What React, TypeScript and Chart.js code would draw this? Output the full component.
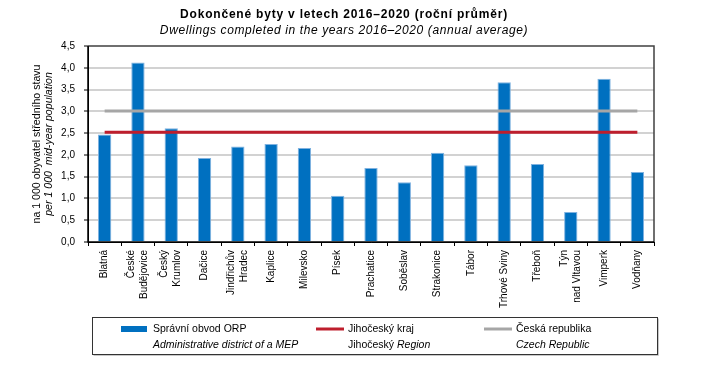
import { useEffect, useRef } from "react";
import { Chart, registerables } from "chart.js";

Chart.register(...registerables);

const FONT = '"Liberation Sans", Arial, sans-serif';

const titleText = "Dokončené byty v letech 2016–2020 (roční průměr)";
const subtitleText = "Dwellings completed in the years 2016–2020 (annual average)";
const yTitleCz = "na 1 000 obyvatel středního stavu";
const yTitleEn = "per 1 000  mid-year population";

const categories: string[][] = [
  ["Blatná"],
  ["České", "Budějovice"],
  ["Český", "Krumlov"],
  ["Dačice"],
  ["Jindřichův", "Hradec"],
  ["Kaplice"],
  ["Milevsko"],
  ["Písek"],
  ["Prachatice"],
  ["Soběslav"],
  ["Strakonice"],
  ["Tábor"],
  ["Trhové Sviny"],
  ["Třeboň"],
  ["Týn", "nad Vltavou"],
  ["Vimperk"],
  ["Vodňany"],
];

const orpValues = [2.47, 4.12, 2.61, 1.93, 2.19, 2.25, 2.16, 1.06, 1.7, 1.37, 2.05, 1.76, 3.67, 1.79, 0.69, 3.75, 1.61];
const regionValue = 2.52;
const czechValue = 3.01;

const yMin = 0;
const yMax = 4.5;
const yStep = 0.5;

const legendCz = ["Správní obvod ORP", "Jihočeský kraj", "Česká republika"];
const legendEn = ["Administrative district of a MEP", "Region", "Czech Republic"];

const BLUE = "#0070c0";
const RED = "#be1e2d";
const GRAY = "#a6a6a6";

const decorPlugin = {
  id: "decor",
  afterDraw(chart: any) {
    const ctx = chart.ctx as any;
    const { left, right, top, bottom } = chart.chartArea;
    ctx.save();

    // plot frame
    ctx.lineWidth = 1.5;
    ctx.strokeStyle = "#404040";
    ctx.beginPath();
    ctx.moveTo(left, top);
    ctx.lineTo(right, top);
    ctx.lineTo(right, bottom);
    ctx.stroke();
    ctx.strokeStyle = "#000";
    ctx.beginPath();
    ctx.moveTo(left, top);
    ctx.lineTo(left, bottom);
    ctx.lineTo(right, bottom);
    ctx.stroke();

    // titles
    ctx.fillStyle = "#000";
    ctx.textAlign = "center";
    ctx.textBaseline = "middle";
    ctx.letterSpacing = "0.8px";
    ctx.font = `bold 12px ${FONT}`;
    ctx.fillText(titleText, 344, 15);
    ctx.letterSpacing = "0.6px";
    ctx.font = `italic 12px ${FONT}`;
    ctx.fillText(subtitleText, 344, 31);
    ctx.letterSpacing = "0px";

    // y title
    const cy = (top + bottom) / 2;
    ctx.save();
    ctx.translate(37, cy);
    ctx.rotate(-Math.PI / 2);
    ctx.font = `10.6px ${FONT}`;
    ctx.fillText(yTitleCz, 0, 0);
    ctx.restore();
    ctx.save();
    ctx.translate(49, cy);
    ctx.rotate(-Math.PI / 2);
    ctx.font = `italic 10.6px ${FONT}`;
    ctx.fillText(yTitleEn, 0, 0);
    ctx.restore();

    // x labels
    const xs = chart.scales.x;
    ctx.font = `10px ${FONT}`;
    ctx.textAlign = "right";
    ctx.textBaseline = "middle";
    categories.forEach((lines, i) => {
      const cx = xs.getPixelForValue(i);
      lines.forEach((ln, j) => {
        const off = (j - (lines.length - 1) / 2) * 13;
        ctx.save();
        ctx.translate(cx + off, bottom + 8);
        ctx.rotate(-Math.PI / 2);
        ctx.fillText(ln, 0, 0);
        ctx.restore();
      });
    });

    // legend box
    const bx = 92.5, by = 317.5, bw = 565, bh = 37;
    ctx.strokeStyle = "#c8c8c8";
    ctx.lineWidth = 1;
    ctx.beginPath();
    ctx.moveTo(bx + bw + 1, by + 1);
    ctx.lineTo(bx + bw + 1, by + bh + 1);
    ctx.lineTo(bx + 1, by + bh + 1);
    ctx.stroke();
    ctx.strokeStyle = "#333";
    ctx.strokeRect(bx, by, bw, bh);

    const y1 = 329, y2 = 345;
    ctx.textAlign = "left";
    ctx.textBaseline = "middle";
    // item 1
    ctx.fillStyle = BLUE;
    ctx.fillRect(121, y1 - 3, 26, 6);
    ctx.fillStyle = "#000";
    ctx.font = `10.5px ${FONT}`;
    ctx.fillText(legendCz[0], 153, y1);
    ctx.font = `italic 10.5px ${FONT}`;
    ctx.fillText(legendEn[0], 153, y2);
    // item 2
    ctx.strokeStyle = RED;
    ctx.lineWidth = 3;
    ctx.beginPath();
    ctx.moveTo(316, y1);
    ctx.lineTo(344, y1);
    ctx.stroke();
    ctx.font = `10.5px ${FONT}`;
    ctx.fillText(legendCz[1], 348, y1);
    const pre = "Jihočeský ";
    ctx.fillText(pre, 348, y2);
    const pw = ctx.measureText(pre).width;
    ctx.font = `italic 10.5px ${FONT}`;
    ctx.fillText(legendEn[1], 348 + pw, y2);
    // item 3
    ctx.strokeStyle = GRAY;
    ctx.beginPath();
    ctx.moveTo(484, y1);
    ctx.lineTo(512, y1);
    ctx.stroke();
    ctx.font = `10.5px ${FONT}`;
    ctx.fillText(legendCz[2], 516, y1);
    ctx.font = `italic 10.5px ${FONT}`;
    ctx.fillText(legendEn[2], 516, y2);

    ctx.restore();
  },
};

export default function App() {
  const ref = useRef<HTMLCanvasElement | null>(null);
  useEffect(() => {
    if (!ref.current) return;
    const labels = categories.map((c) => c.join(" "));
    const chart = new Chart(ref.current, {
      type: "bar",
      data: {
        labels,
        datasets: [
          {
            type: "bar",
            label: legendCz[0],
            data: orpValues,
            backgroundColor: BLUE,
            borderColor: "#7fb2e0",
            borderWidth: 1,
            barPercentage: 0.4,
            categoryPercentage: 1,
            order: 2,
          } as any,
          {
            type: "line",
            label: legendCz[2],
            data: labels.map(() => czechValue),
            borderColor: GRAY,
            borderWidth: 3,
            pointRadius: 0,
            fill: false,
            order: 1,
          } as any,
          {
            type: "line",
            label: legendCz[1],
            data: labels.map(() => regionValue),
            borderColor: RED,
            borderWidth: 3,
            pointRadius: 0,
            fill: false,
            order: 0,
          } as any,
        ],
      },
      options: {
        responsive: false,
        animation: false,
        devicePixelRatio: 1,
        layout: { padding: { left: 0, right: 58, top: 46, bottom: 0 } },
        plugins: {
          legend: { display: false },
          title: { display: false },
          tooltip: { enabled: false },
        },
        scales: {
          x: {
            offset: true,
            ticks: { display: false },
            grid: {
              display: true,
              offset: true,
              drawOnChartArea: false,
              drawTicks: true,
              tickLength: 4,
              tickColor: "#000",
              tickWidth: 1,
            },
            border: { display: true, color: "#000", width: 1 },
            afterFit: (s: any) => {
              s.height = 135;
            },
          },
          y: {
            min: yMin,
            max: yMax,
            ticks: {
              stepSize: yStep,
              padding: 9,
              color: "#000",
              font: { family: FONT, size: 10 },
              callback: (v: any) => Number(v).toFixed(1).replace(".", ","),
            },
            grid: {
              color: (c: any) => (c.tick && (c.tick.value === 0 || c.tick.value === yMax) ? "rgba(0,0,0,0)" : "#d2d2d2"),
              lineWidth: 2,
              tickLength: 4,
              tickColor: "#000",
              tickWidth: 1,
            },
            border: { display: true, color: "#000", width: 1 },
            afterFit: (s: any) => {
              s.width = 88;
            },
          },
        },
      },
      plugins: [decorPlugin],
    });
    return () => chart.destroy();
  }, []);
  return (
    <div style={{ position: "fixed", left: 0, top: 0, width: 712, height: 377, background: "#fff" }}>
      <canvas ref={ref} width={712} height={377} />
    </div>
  );
}
